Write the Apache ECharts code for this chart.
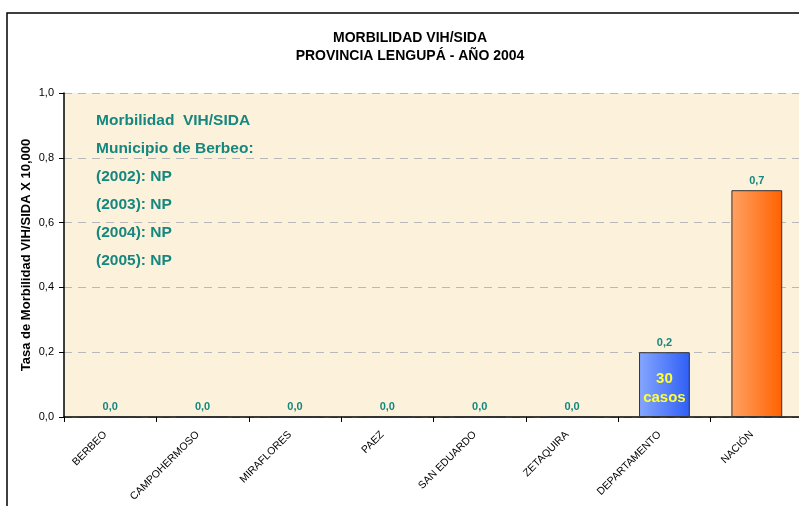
<!DOCTYPE html>
<html>
<head>
<meta charset="utf-8">
<script src="https://cdn.jsdelivr.net/npm/echarts@6/dist/echarts.min.js"></script>
<style>
html, body { margin: 0; padding: 0; background: #fff; }
#chart { width: 799px; height: 506px; }
</style>
</head>
<body>
<div id="chart"></div>
<script>
var categories = ['BERBEO', 'CAMPOHERMOSO', 'MIRAFLORES', 'PAEZ', 'SAN EDUARDO', 'ZETAQUIRA', 'DEPARTAMENTO', 'NACIÓN'];
var values = [0, 0, 0, 0, 0, 0, 0.2, 0.7];
var casos = [null, null, null, null, null, null, '30\ncasos', null];
var notes = ['Morbilidad  VIH/SIDA', 'Municipio de Berbeo:', '(2002): NP', '(2003): NP', '(2004): NP', '(2005): NP'];

var teal = '#16877f';
var font = 'Liberation Sans, Arial, sans-serif';

function comma(v) {
    return v.toFixed(1).replace('.', ',');
}

var blueFill = new echarts.graphic.LinearGradient(0, 0, 1, 0, [
    {offset: 0, color: '#85a6ff'},
    {offset: 1, color: '#2f5ff5'}
]);
var orangeFill = new echarts.graphic.LinearGradient(0, 0, 1, 0, [
    {offset: 0, color: '#ffa264'},
    {offset: 1, color: '#ff6200'}
]);

var barData = [];
for (var i = 0; i < values.length; i++) {
    var item = {value: values[i]};
    if (categories[i] === 'DEPARTAMENTO') {
        item.itemStyle = {color: blueFill};
    } else if (categories[i] === 'NACIÓN') {
        item.itemStyle = {color: orangeFill};
    }
    barData.push(item);
}

var casosData = [];
for (var j = 0; j < casos.length; j++) {
    casosData.push(casos[j] ? {value: values[j], name: casos[j]} : null);
}

var noteGraphics = [];
for (var k = 0; k < notes.length; k++) {
    noteGraphics.push({
        type: 'text',
        left: 96,
        top: 113 + k * 28,
        z: 10,
        style: {text: notes[k], fill: teal, font: 'bold 15.5px ' + font}
    });
}

var chart = echarts.init(document.getElementById('chart'));
var option = {
    animation: false,
    backgroundColor: '#fff',
    textStyle: {fontFamily: font},
    title: {
        text: 'MORBILIDAD VIH/SIDA\nPROVINCIA LENGUPÁ - AÑO 2004',
        left: 405,
        textAlign: 'center',
        top: 24,
        textStyle: {fontSize: 14, fontWeight: 'bold', color: '#000', lineHeight: 18, fontFamily: font}
    },
    grid: {left: 64, width: 739, top: 93, height: 324, outerBoundsMode: 'none', show: true, backgroundColor: '#fcf1da', borderWidth: 0},
    graphic: [{
        type: 'rect',
        shape: {x: 7, y: 13, width: 900, height: 600},
        style: {fill: 'none', stroke: '#000', lineWidth: 1.5},
        z: -1
    }].concat(noteGraphics),
    xAxis: {
        type: 'category',
        data: categories,
        axisLine: {lineStyle: {color: '#000', width: 1.5}},
        axisTick: {show: true, length: 5, lineStyle: {color: '#000'}},
        axisLabel: {rotate: 45, fontSize: 10.5, color: '#000', margin: 11, padding: [0, 7, 0, 0], fontFamily: font}
    },
    yAxis: {
        type: 'value',
        min: 0,
        max: 1,
        interval: 0.2,
        name: 'Tasa de Morbilidad VIH/SIDA X 10,000',
        nameLocation: 'middle',
        nameGap: 31,
        nameMoveOverlap: false,
        nameTextStyle: {fontSize: 13, fontWeight: 'bold', color: '#000', fontFamily: font},
        axisLine: {show: true, lineStyle: {color: '#000', width: 1.5}},
        axisTick: {show: true, length: 5, lineStyle: {color: '#000'}},
        axisLabel: {fontSize: 11, color: '#000', formatter: comma, fontFamily: font, margin: 10},
        splitLine: {lineStyle: {color: '#b8b8b8', type: [8, 6]}}
    },
    series: [{
        type: 'bar',
        data: barData,
        barWidth: '55%',
        itemStyle: {borderColor: '#333', borderWidth: 1},
        label: {
            show: true,
            position: 'top',
            distance: 4,
            color: teal,
            fontSize: 11,
            fontWeight: 'bold',
            formatter: function (p) { return comma(p.value); }
        }
    }, {
        type: 'bar',
        data: casosData,
        barWidth: '55%',
        barGap: '-100%',
        itemStyle: {color: 'transparent'},
        silent: true,
        label: {
            show: true,
            position: 'inside',
            offset: [0, 4],
            color: '#ffff33',
            fontSize: 15,
            fontWeight: 'bold',
            lineHeight: 19,
            formatter: function (p) { return p.name; }
        }
    }]
};
chart.setOption(option);
</script>
</body>
</html>
